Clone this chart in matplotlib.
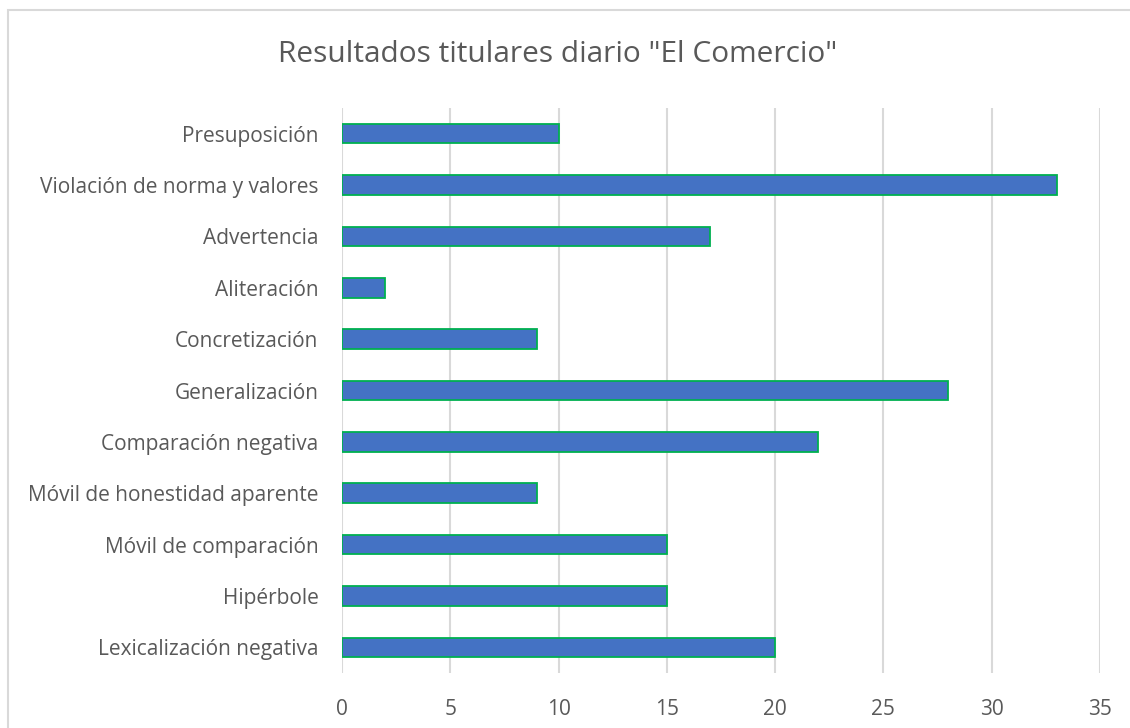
import matplotlib.pyplot as plt
from matplotlib.patches import Rectangle

# datos del gráfico
categorias = ["Presuposición", "Violación de norma y valores", "Advertencia",
              "Aliteración", "Concretización", "Generalización",
              "Comparación negativa", "Móvil de honestidad aparente",
              "Móvil de comparación", "Hipérbole", "Lexicalización negativa"]
valores = [10, 33, 17, 2, 9, 28, 22, 9, 15, 15, 20]
ticks_x = [0, 5, 10, 15, 20, 25, 30, 35]

plt.rcParams['font.family'] = ['Open Sans', 'DejaVu Sans']

W, H = 1130, 728
fig = plt.figure(figsize=(W / 100, H / 100), dpi=100)

# marco del gráfico (sale por la derecha y abajo)
fig.patches.append(Rectangle((8 / W, -0.1), 1.2, 1 - 10 / H + 0.1,
                             transform=fig.transFigure, fill=False,
                             edgecolor="#d9d9d9", linewidth=1.5))

ax = fig.add_axes([342 / W, 1 - 673 / H, (1100 - 342) / W, (673 - 108) / H])

pos = list(range(len(categorias)))[::-1]
ax.barh(pos, valores, height=0.38, color="#4472C4",
        edgecolor="#00B050", linewidth=1.3, zorder=3)

ax.set_xlim(0, 35)
ax.set_ylim(-0.5, len(categorias) - 0.5)
ax.set_xticks(ticks_x)
ax.set_yticks(pos)
ax.set_yticklabels(categorias)
ax.grid(axis="x", color="#d9d9d9", linewidth=1.5, zorder=0)
for s in ax.spines.values():
    s.set_visible(False)
ax.tick_params(length=0, labelsize=15, colors="#595959")
ax.tick_params(axis="y", pad=17)
ax.tick_params(axis="x", pad=19)

fig.text(558 / W, 1 - 54 / H, 'Resultados titulares diario "El Comercio"',
         ha="center", va="center", fontsize=21.5, color="#595959")

fig.savefig("out.png", dpi=100)
